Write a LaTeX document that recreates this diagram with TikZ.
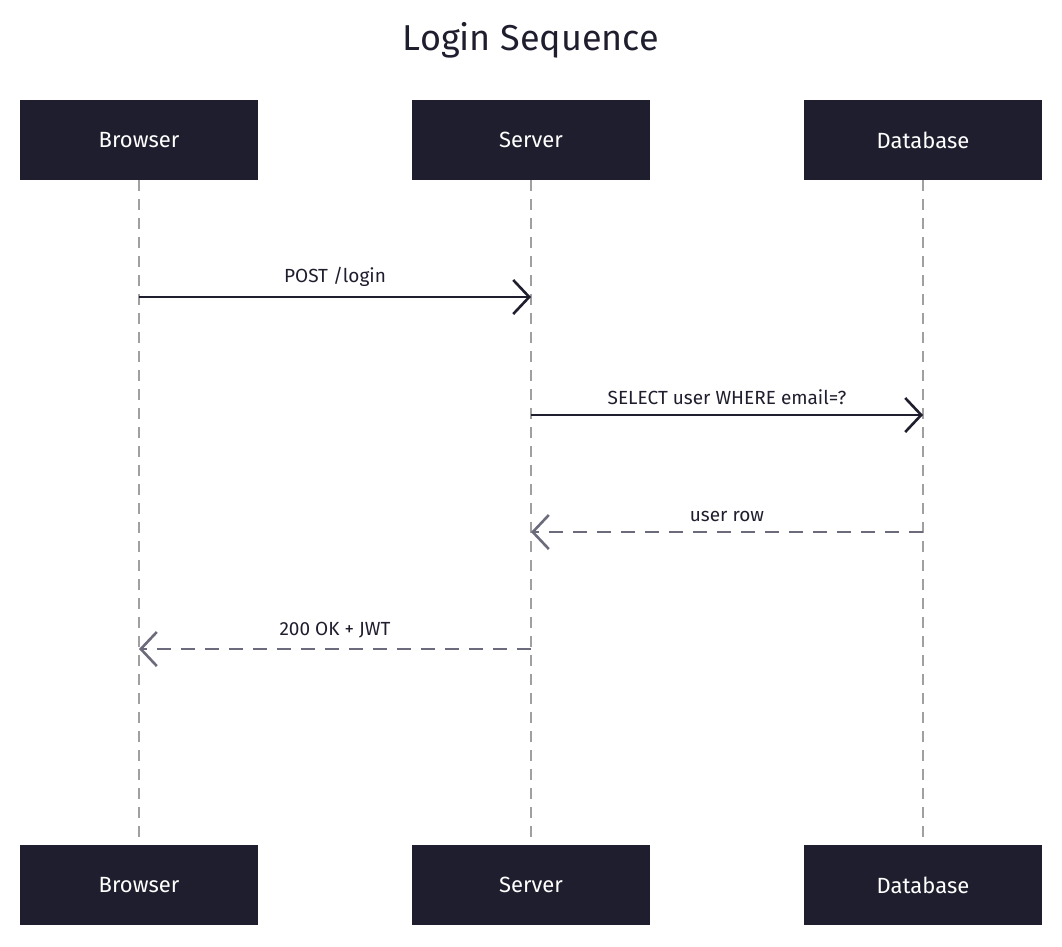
\documentclass[tikz,border=0pt]{standalone}
\usepackage{fontspec}
\setmainfont{Fira Sans}
\usetikzlibrary{arrows.meta,positioning}
\definecolor{boxfill}{HTML}{1E1E2E}
\definecolor{lifegray}{HTML}{A0A0A0}
\definecolor{retgray}{HTML}{6B6B7B}
\tikzset{
  actor/.style = {draw=none, fill=boxfill, text=white, minimum width=238pt,
                  minimum height=80pt, inner sep=0pt, font=\fontsize{22}{26}\selectfont},
  life/.style = {lifegray, line width=1.6pt, dash pattern=on 11pt off 8pt},
  call/.style = {boxfill, line width=2.6pt, -{Straight Barb[length=16pt,width=34pt,line width=2.6pt]}},
  reply/.style = {retgray, line width=2.6pt, dash pattern=on 14pt off 10pt,
                  -{Straight Barb[length=16pt,width=34pt,line width=2.6pt]}},
  msg/.style = {text=boxfill, font=\fontsize{19}{22}\selectfont}
}
\begin{document}
\begin{tikzpicture}[x=1pt, y=-1pt]
\useasboundingbox (0,0) rectangle (1062,946);
\node[font=\fontsize{36}{40}\selectfont, text=boxfill] (title) at (531,40) {Login Sequence};
% actors, top and bottom
\node[actor] (b1) at (139,140) {Browser};
\node[actor] (s1) at (531,140) {Server};
\node[actor] (d1) at (923,140) {Database};
\node[actor] (b2) at (139,885) {Browser};
\node[actor] (s2) at (531,885) {Server};
\node[actor] (d2) at (923,885) {Database};
% lifelines
\draw[life] (b1.south) -- (b2.north);
\draw[life] (s1.south) -- (s2.north);
\draw[life] (d1.south) -- (d2.north);
% messages
\coordinate (m1b) at (139,297); \coordinate (m1s) at (531,297);
\coordinate (m2s) at (531,415); \coordinate (m2d) at (923,415);
\coordinate (m3d) at (923,532); \coordinate (m3s) at (531,532);
\coordinate (m4s) at (531,649); \coordinate (m4b) at (139,649);
\draw[call] (m1b) -- node[msg, above=6pt] (l1) {POST /login} (m1s);
\draw[call] (m2s) -- node[msg, above=6pt] (l2) {SELECT user WHERE email=?} (m2d);
\draw[reply] (m3d) -- node[msg, above=6pt] (l3) {user row} (m3s);
\draw[reply] (m4s) -- node[msg, above=6pt] (l4) {200 OK + JWT} (m4b);
\end{tikzpicture}
\end{document}
